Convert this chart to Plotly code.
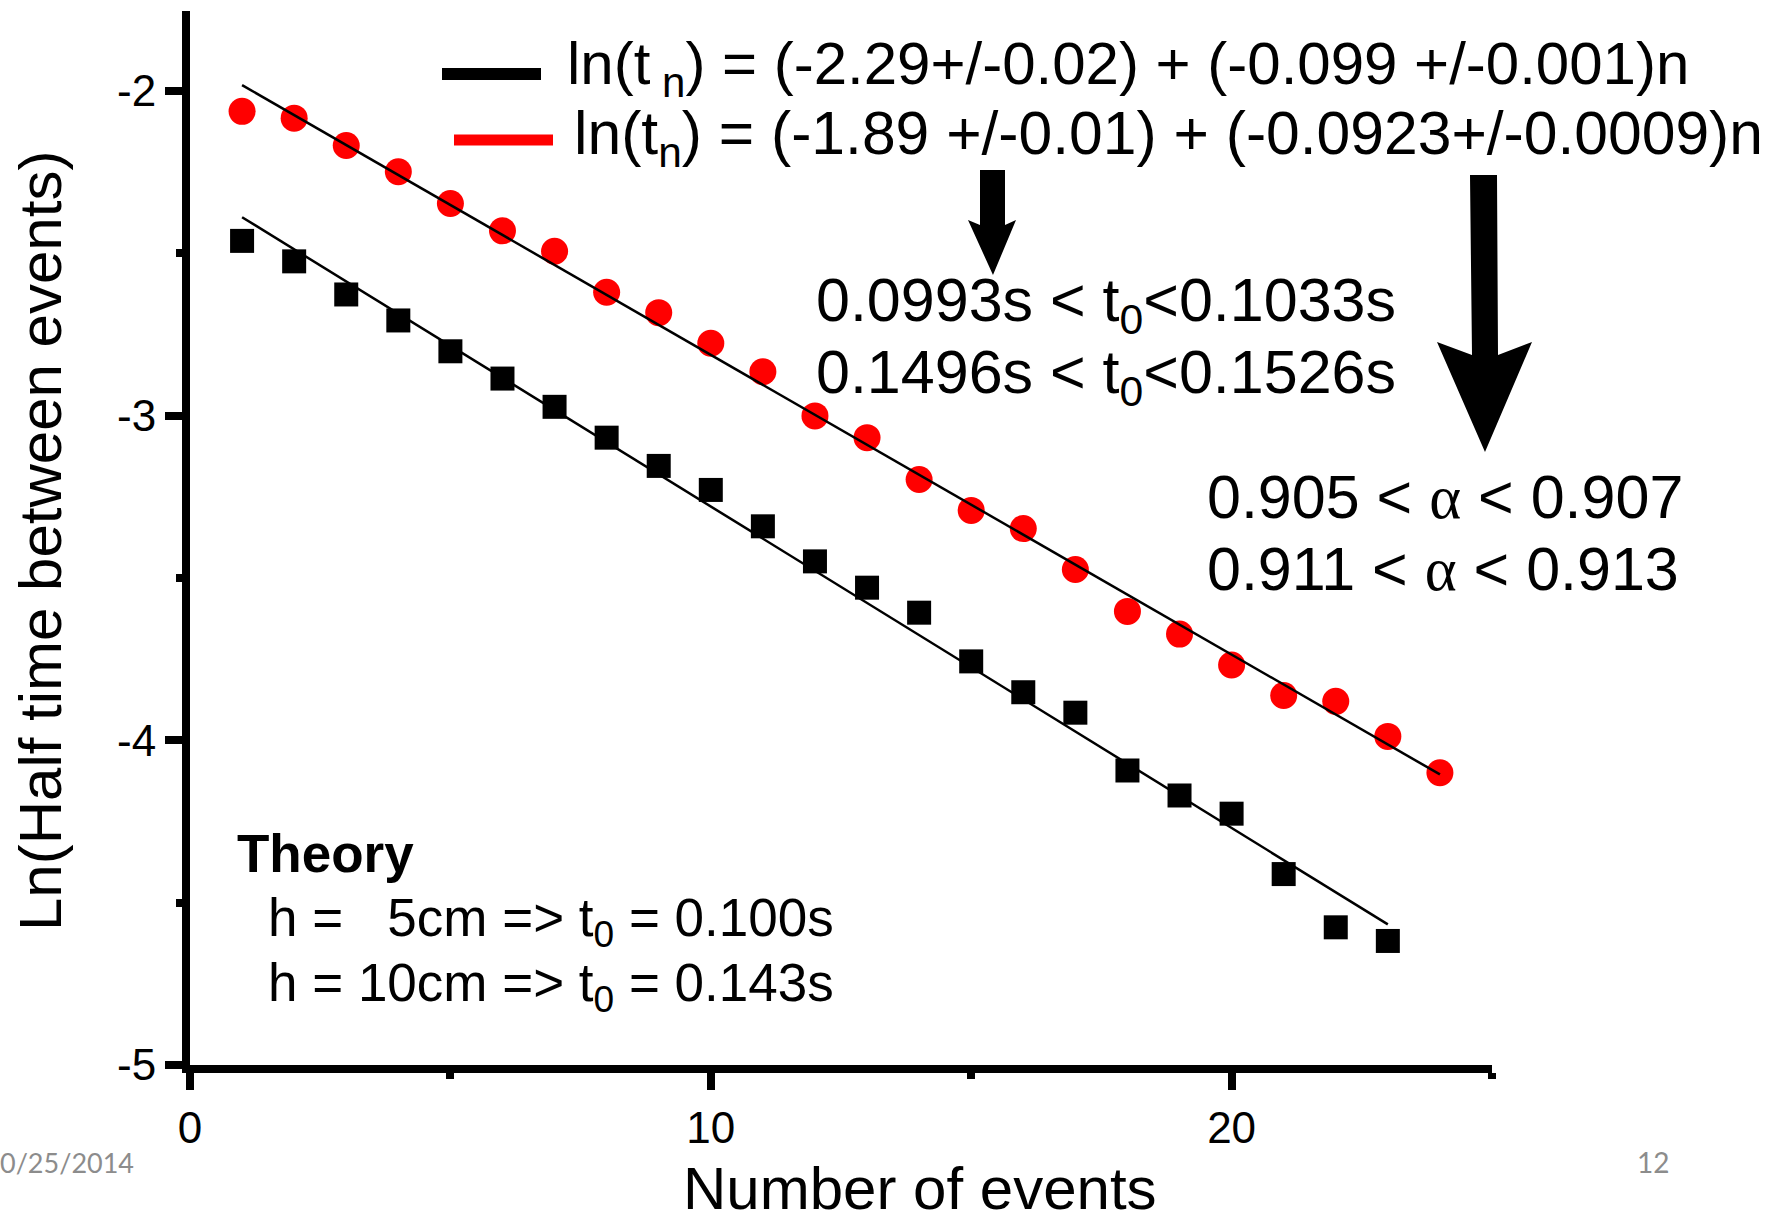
import plotly.graph_objects as go

# ---------------- data ----------------
n_h5 = list(range(1, 24))
ln_h5 = [-2.462, -2.525, -2.627, -2.707, -2.802, -2.886, -2.973, -3.068, -3.155,
         -3.229, -3.341, -3.449, -3.530, -3.607, -3.757, -3.852, -3.915, -4.093,
         -4.170, -4.226, -4.412, -4.576, -4.618]

n_h10 = list(range(1, 25))
ln_h10 = [-2.063, -2.084, -2.168, -2.249, -2.347, -2.431, -2.494, -2.620, -2.683,
          -2.777, -2.865, -3.001, -3.068, -3.197, -3.292, -3.348, -3.474, -3.603,
          -3.673, -3.768, -3.862, -3.880, -3.988, -4.100]

# linear fits ln(t_n) = a + b n, quoted in the chart's legend
fit_h5 = [-2.29, -0.099]
fit_h5_n = [1, 23]
fit_h10 = [-1.89, -0.0923]
fit_h10_n = [1, 24]

x_tickvals = [0, 10, 20]
x_ticktext = ["0", "10", "20"]
x_minor = [5, 15, 25]
y_tickvals = [-5, -4, -3, -2]
y_ticktext = ["-5", "-4", "-3", "-2"]
y_minor = [-4.5, -3.5, -2.5]

# ---------------- layout geometry ----------------
W, H = 1787, 1210
ML, MR, MT, MB = 190, 295, 11, 145
PW, PH = W - ML - MR, H - MT - MB
FONT = "Liberation Sans, Arial, sans-serif"


def xp(px):
    return (px - ML) / PW


def yp(py):
    return (H - MB - py) / PH


fig = go.Figure()

fig.add_trace(go.Scatter(x=n_h5, y=ln_h5, mode="markers",
                         marker=dict(symbol="square", size=24, color="black"),
                         showlegend=False, cliponaxis=False))
fig.add_trace(go.Scatter(x=n_h10, y=ln_h10, mode="markers",
                         marker=dict(symbol="circle", size=27, color="#ff0000"),
                         showlegend=False, cliponaxis=False))

for fit, nr in ((fit_h5, fit_h5_n), (fit_h10, fit_h10_n)):
    fig.add_trace(go.Scatter(x=nr, y=[fit[0] + fit[1] * v for v in nr], mode="lines",
                             line=dict(color="black", width=2.5),
                             showlegend=False, cliponaxis=False))

axis_common = dict(showline=True, linewidth=8, linecolor="black", mirror=False,
                   ticks="outside", ticklen=17, tickwidth=8, tickcolor="black",
                   showgrid=False, zeroline=False,
                   tickfont=dict(family=FONT, size=44, color="black"))

fig.update_xaxes(range=[0, 25], tickmode="array", tickvals=x_tickvals, ticktext=x_ticktext,
                 minor=dict(tickmode="array", tickvals=x_minor, ticks="outside",
                            ticklen=6, tickwidth=8, tickcolor="black", showgrid=False),
                 **axis_common)
fig.update_yaxes(range=[-5, -1.754], tickmode="array", tickvals=y_tickvals, ticktext=y_ticktext,
                 minor=dict(tickmode="array", tickvals=y_minor, ticks="outside",
                            ticklen=6, tickwidth=8, tickcolor="black", showgrid=False),
                 **axis_common)

annotations = []


def ann(text, px, py_top, size, xanchor="left", color="black", family=FONT, angle=0, yanchor="top"):
    annotations.append(dict(text=text, x=xp(px), y=yp(py_top), xref="paper", yref="paper",
                            xanchor=xanchor, yanchor=yanchor, showarrow=False,
                            borderpad=0, borderwidth=0, textangle=angle,
                            font=dict(family=family, size=size, color=color)))


ALPHA = '<span style="font-family:Liberation Serif">α</span>'

ann("ln(t<sub> n</sub>) = (-2.29+/-0.02) + (-0.099 +/-0.001)n", 567, 84 - 0.905 * 60, 60)
ann("ln(t<sub>n</sub>) = (-1.89 +/-0.01) + (-0.0923+/-0.0009)n", 574, 154 - 0.905 * 60.6, 60.6)
ann("0.0993s < t<sub>0</sub><0.1033s", 816, 321 - 0.905 * 61, 61)
ann("0.1496s < t<sub>0</sub><0.1526s", 816, 393 - 0.905 * 61, 61)
ann("0.905 < " + ALPHA + " < 0.907", 1207, 518 - 0.905 * 61, 61)
ann("0.911 < " + ALPHA + " < 0.913", 1207, 590 - 0.905 * 61, 61)
ann("<b>Theory</b>", 237, 872 - 0.905 * 53, 53)
ann("h = \u00a0\u00a05cm => t<sub>0</sub> = 0.100s", 268, 936 - 0.905 * 53, 53)
ann("h = 10cm => t<sub>0</sub> = 0.143s", 268, 1001 - 0.905 * 53, 53)

# axis titles
ann("Number of events", 920, 1209 - 0.905 * 60, 60, xanchor="center")
ann("Ln(Half time between events)", 40, 541, 60, xanchor="center", angle=-90, yanchor="middle")

# slide footer
ann("0/25/2014", 0, 1162, 27, color="#8c8c8c", family="Lato, Open Sans, sans-serif", yanchor="middle")
ann("12", 1669, 1162, 28, xanchor="right", color="#8c8c8c", family="Lato, Open Sans, sans-serif", yanchor="middle")

shapes = []
# legend line samples
shapes.append(dict(type="line", xref="paper", yref="paper", x0=xp(442), x1=xp(541), y0=yp(74), y1=yp(74),
                   line=dict(color="black", width=12)))
shapes.append(dict(type="line", xref="paper", yref="paper", x0=xp(454), x1=xp(553), y0=yp(140), y1=yp(140),
                   line=dict(color="#ff0000", width=11)))


def arrow_path(pts):
    return "M " + " L ".join(f"{xp(a):.5f},{yp(b):.5f}" for a, b in pts) + " Z"


arrow1 = [(980, 170), (1005, 170), (1005, 225), (1016, 220), (993, 275), (968, 220), (980, 225)]
arrow2 = [(1470, 175), (1497, 175), (1498, 355), (1532, 342), (1485, 452), (1437, 342), (1472, 355)]
for a in (arrow1, arrow2):
    shapes.append(dict(type="path", xref="paper", yref="paper", path=arrow_path(a),
                       fillcolor="black", line=dict(color="black", width=0)))

fig.update_layout(width=W, height=H, margin=dict(l=ML, r=MR, t=MT, b=MB, pad=0),
                  plot_bgcolor="white", paper_bgcolor="white",
                  annotations=annotations, shapes=shapes, showlegend=False,
                  font=dict(family=FONT, color="black"))

fig.write_html("out.html")
